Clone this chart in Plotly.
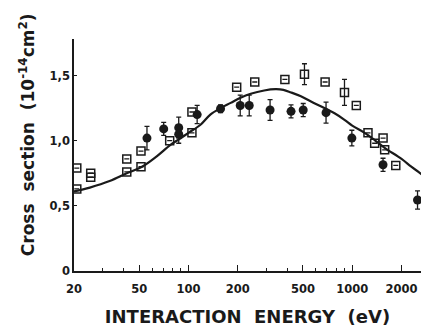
import plotly.graph_objects as go
import math

# Open squares
sq_x = [20.8, 20.8, 25.3, 25.3, 42, 42, 51.3, 51.3, 76.8, 105, 105, 197, 254, 388, 511, 683, 897, 1059, 1248, 1371, 1543, 1578, 1845]
sq_y = [0.79, 0.63, 0.75, 0.72, 0.86, 0.76, 0.92, 0.80, 1.00, 1.22, 1.06, 1.41, 1.45, 1.47, 1.51, 1.45, 1.37, 1.27, 1.06, 0.98, 1.02, 0.93, 0.81]
sq_err = [0, 0, 0, 0, 0, 0, 0, 0, 0, 0, 0, 0, 0, 0, 0.08, 0, 0.10, 0, 0, 0, 0, 0, 0]

# Filled circles
ci_x = [55.8, 70.6, 87.2, 87.2, 113, 157, 207, 235, 315, 423, 502, 692, 995, 1542, 2505]
ci_y = [1.02, 1.09, 1.10, 1.05, 1.20, 1.245, 1.27, 1.27, 1.235, 1.225, 1.235, 1.215, 1.02, 0.815, 0.545]
ci_err = [0.09, 0.05, 0.08, 0.07, 0.07, 0.03, 0.08, 0.08, 0.08, 0.05, 0.05, 0.08, 0.06, 0.05, 0.07]

# Theoretical curve
cv_x = [20, 25, 33, 42, 52, 64, 78, 90, 100, 118, 136, 157, 181, 208, 240, 290, 340, 380, 423, 486, 560, 676, 780, 897, 1000, 1190, 1371, 1578, 2000, 2295, 2700]
cv_y = [0.61, 0.64, 0.69, 0.75, 0.80, 0.88, 0.97, 1.02, 1.06, 1.12, 1.20, 1.25, 1.29, 1.33, 1.36, 1.385, 1.395, 1.39, 1.37, 1.34, 1.30, 1.25, 1.21, 1.16, 1.115, 1.06, 1.005, 0.945, 0.86, 0.80, 0.735]

x_major = [20, 50, 100, 200, 500, 1000, 2000]
x_major_text = ["20", "50", "100", "200", "500", "1000", "2000"]
x_minor = [30, 40, 60, 70, 80, 90, 300, 400, 600, 700, 800, 900]
y_ticks = [0, 0.5, 1.0, 1.5]
y_tick_text = ["0", "0,5", "1,0", "1,5"]

ink = "#1a1a1a"
fnt = "DejaVu Sans"
sp = "\u00a0"
fig = go.Figure()
fig.add_trace(go.Scatter(x=cv_x, y=cv_y, mode="lines", line=dict(color=ink, width=2.2, shape="spline"),
                         hoverinfo="skip", cliponaxis=True))
fig.add_trace(go.Scatter(x=sq_x, y=sq_y, mode="markers",
                         marker=dict(symbol="square-open", size=8, color=ink, line=dict(width=1.5, color=ink)),
                         error_y=dict(type="data", array=sq_err, color=ink, thickness=1.3, width=2.5),
                         cliponaxis=False))
fig.add_trace(go.Scatter(x=ci_x, y=ci_y, mode="markers",
                         marker=dict(symbol="circle", size=9, color=ink),
                         error_y=dict(type="data", array=ci_err, color=ink, thickness=1.3, width=2.5),
                         cliponaxis=False))

fig.add_annotation(text="<b>Cross" + sp * 2 + "section" + sp * 2 + "(10<sup>-14</sup>cm<sup>2</sup>)</b>",
                   xref="paper", yref="paper", x=-0.135, y=0.586, xanchor="center", yanchor="middle",
                   textangle=-90, showarrow=False, font=dict(family=fnt, size=17, color=ink))

fig.update_layout(
    width=421, height=333,
    margin=dict(l=74, r=0, t=39, b=62, autoexpand=False),
    paper_bgcolor="white", plot_bgcolor="white",
    showlegend=False,
    font=dict(family=fnt, color=ink),
    xaxis=dict(type="log", range=[math.log10(20), 3.42], automargin=False,
               tickvals=x_major, ticktext=["<b>%s</b>" % t for t in x_major_text],
               ticks="inside", ticklen=6, tickwidth=1.2, tickcolor=ink, ticklabelstandoff=6,
               minor=dict(tickvals=x_minor, ticks="inside", ticklen=3, tickwidth=1, tickcolor=ink),
               showline=True, linecolor=ink, linewidth=1.5, showgrid=False, zeroline=False,
               tickfont=dict(family=fnt, size=11.5, color=ink),
               title=dict(text="<b>INTERACTION" + sp * 2 + "ENERGY" + sp * 2 + "(eV)</b>",
                          font=dict(family=fnt, size=18, color=ink), standoff=16)),
    yaxis=dict(range=[0, 1.78], automargin=False, tickvals=y_ticks, ticktext=["<b>%s</b>" % t for t in y_tick_text],
               ticks="inside", ticklen=3, tickwidth=1.2, tickcolor=ink,
               showline=True, linecolor=ink, linewidth=1.5, showgrid=False, zeroline=False,
               tickfont=dict(family=fnt, size=11.5, color=ink)),
)
fig.write_html("out.html", config={"displayModeBar": False},
               post_script="document.body.style.margin='0px';")
